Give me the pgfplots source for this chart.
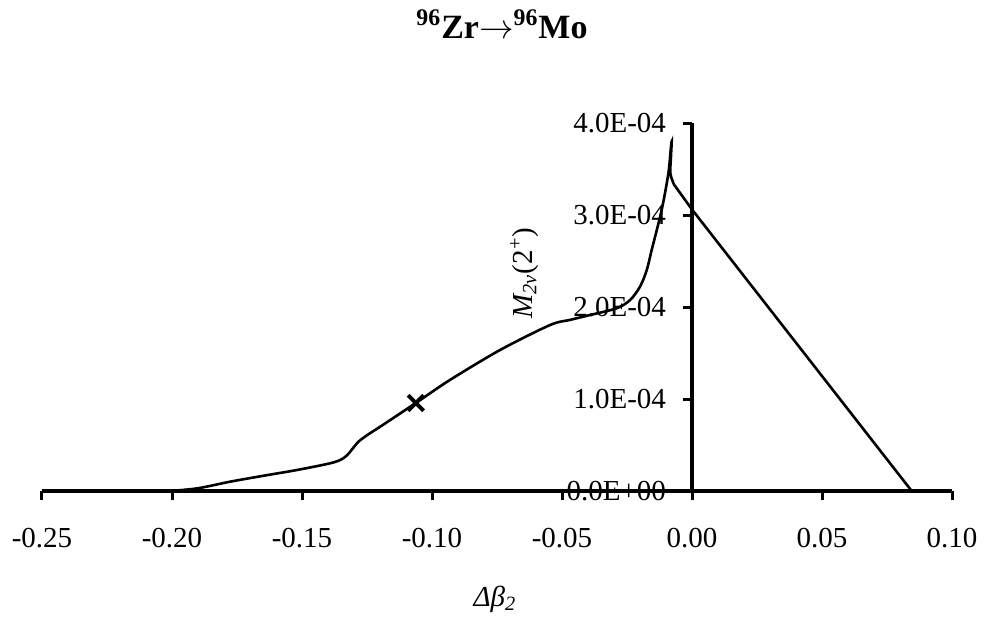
\documentclass[border=0pt]{standalone}
\usepackage{fontspec}
\setmainfont{Liberation Serif}
\usepackage{pgfplots}
\pgfplotsset{compat=1.18}
\begin{document}
\begin{tikzpicture}
\begin{axis}[
  at={(0,0)}, anchor=south west,
  scale only axis, width=455pt, height=184pt,
  xmin=-0.25, xmax=0.10, ymin=0, ymax=4e-4,
  axis x line=middle, axis y line=middle,
  axis line style={line width=2pt, -},
  every inner x axis line/.append style={-},
  every inner y axis line/.append style={-},
  hide obscured x ticks=false, hide obscured y ticks=false,
  scaled y ticks=false, scaled x ticks=false,
  xtick={-0.25,-0.20,-0.15,-0.10,-0.05,0,0.05,0.10},
  xticklabels={-0.25,-0.20,-0.15,-0.10,-0.05,0.00,0.05,0.10},
  ytick={0,1e-4,2e-4,3e-4,4e-4},
  yticklabels={0.0E+00,1.0E-04,2.0E-04,3.0E-04,4.0E-04},
  tick align=outside, major tick length=4.5pt,
  tick style={line width=1.5pt, black},
  minor tick num=0,
  xticklabel style={anchor=north, yshift=-10.5pt},
  yticklabel style={anchor=east, xshift=-5pt},
  font=\fontsize{14.5}{17}\selectfont,
  clip=false,
]
\addplot[line width=1.3pt, smooth, tension=0.5] coordinates {
(-0.2008,0) (-0.19,3e-6) (-0.1777,1.01e-5) (-0.1650,1.65e-5) (-0.1520,2.28e-5)
(-0.1380,3.1e-5) (-0.1330,3.8e-5) (-0.1277,5.5e-5) (-0.1180,7.35e-5)
(-0.1062,9.57e-5) (-0.0931,1.207e-4) (-0.0738,1.533e-4) (-0.0546,1.804e-4)
(-0.0469,1.86e-4) (-0.0392,1.913e-4) (-0.0290,1.986e-4) (-0.0238,2.076e-4)
(-0.0200,2.221e-4) (-0.0174,2.402e-4) (-0.0155,2.62e-4) (-0.0117,3.05e-4)
(-0.0091,3.45e-4) (-0.0082,3.71e-4) (-0.0078,3.80e-4) (-0.0081,3.63e-4)
(-0.0083,3.45e-4) (-0.0069,3.33e-4)
};
\addplot[line width=1.3pt] coordinates {(-0.0069,3.33e-4) (0.0,3.06e-4) (0.0845,0)};
\addplot[only marks, mark=x, mark size=5.5pt, line width=2pt] coordinates {(-0.1062,9.57e-5)};
\node[rotate=90, anchor=base west] at (axis cs:-0.0615,1.8e-4)
  {\itshape M\textsubscript{2ν}\upshape(2\textsuperscript{+})};
\end{axis}
\node[anchor=base, font=\fontsize{17}{20}\selectfont\bfseries] at (230pt,226.5pt)
  {\textsuperscript{96}Zr$\rightarrow$\textsuperscript{96}Mo};
\node[anchor=base, font=\fontsize{14.5}{17}\selectfont] at (226.5pt,-57.5pt)
  {\itshape Δβ\textsubscript{2}};
\pgfresetboundingbox
\path[use as bounding box] (-21pt,-63pt) rectangle (471pt,245.5pt);
\end{tikzpicture}
\end{document}
